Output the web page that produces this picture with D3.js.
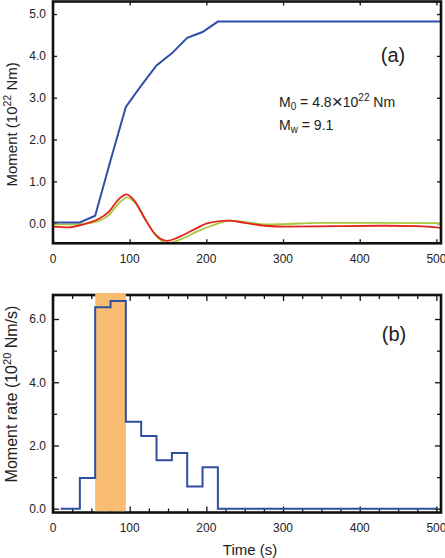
<!DOCTYPE html>
<html><head><meta charset="utf-8">
<script src="https://cdn.jsdelivr.net/npm/d3@7"></script>
<style>body{margin:0;background:#fff}svg{display:block}text{font-family:"Liberation Sans",Arial,sans-serif}</style>
</head><body>
<script>
// Panel (a): cumulative moment (10^22 Nm)
const timeA = [0, 35, 55, 75, 95, 115, 135, 155, 175, 195, 215, 506];
const momentA = [0.02, 0.02, 0.18, 1.5, 2.78, 3.29, 3.77, 4.06, 4.43, 4.57, 4.82, 4.82];
// Synthetic (red) and observed (green) waveforms
const redT = [0, 20, 37, 59, 72, 85, 96, 106, 120, 133, 149, 163, 185, 202, 228, 250, 276, 302, 367, 433, 476, 506];
const redV = [-0.08, -0.1, -0.04, 0.1, 0.26, 0.56, 0.69, 0.54, 0.1, -0.26, -0.42, -0.34, -0.14, 0, 0.06, 0.01, -0.06, -0.08, -0.07, -0.06, -0.07, -0.11];
const greenT = [0, 37, 59, 72, 85, 97, 109, 124, 137, 150, 165, 189, 207, 230, 254, 280, 302, 346, 411, 506];
const greenV = [-0.03, -0.02, 0.05, 0.18, 0.46, 0.62, 0.45, -0.02, -0.35, -0.48, -0.4, -0.19, -0.06, 0.06, 0.02, -0.03, -0.02, 0.01, 0.01, 0.0];
// Panel (b): moment rate (10^20 Nm/s), step function
const rateT = [10, 35, 55, 75, 95, 115, 135, 155, 175, 195, 215, 500];
const rateV = [0, 0.97, 6.37, 6.57, 2.75, 2.3, 1.53, 1.76, 0.7, 1.31, 0, 0];
const bandT = [55, 95];
const xTicks = [0, 100, 200, 300, 400, 500];
const yTicksA = [0, 1, 2, 3, 4, 5];
const yTicksB = [0, 2, 4, 6];

const W = 445, H = 558;
const svg = d3.select("body").append("svg").attr("width", W).attr("height", H);

const L = 53, R = 441;
const x = d3.scaleLinear().domain([0, 506]).range([L, R]);
const yA = d3.scaleLinear().domain([-0.48, 5.3]).range([243.3, 1.5]);
const yB = d3.scaleLinear().domain([-0.12, 6.76]).range([512.5, 295]);
const fmt = d3.format(".1f");

function ticks(g, axisFn, scale, vals, size) {
  g.call(axisFn(scale).tickValues(vals).tickSize(-size).tickFormat(""))
   .call(s => s.select(".domain").remove())
   .call(s => s.selectAll("line").attr("stroke", "#111").attr("stroke-width", 1.3));
}

function panel(y, top, bottom, yVals, yMinor, xMinor, majLen, minLen) {
  const g = svg.append("g");
  ticks(g.append("g").attr("transform", `translate(0,${bottom})`), d3.axisBottom, x, xTicks, majLen);
  ticks(g.append("g").attr("transform", `translate(0,${top})`), d3.axisTop, x, xTicks, majLen);
  ticks(g.append("g").attr("transform", `translate(${L},0)`), d3.axisLeft, y, yVals, majLen);
  ticks(g.append("g").attr("transform", `translate(${R},0)`), d3.axisRight, y, yVals, majLen);
  if (xMinor) {
    ticks(g.append("g").attr("transform", `translate(0,${bottom})`), d3.axisBottom, x, xMinor, minLen);
    ticks(g.append("g").attr("transform", `translate(0,${top})`), d3.axisTop, x, xMinor, minLen);
  }
  if (yMinor) {
    ticks(g.append("g").attr("transform", `translate(${L},0)`), d3.axisLeft, y, yMinor, minLen);
    ticks(g.append("g").attr("transform", `translate(${R},0)`), d3.axisRight, y, yMinor, minLen);
  }
  return g;
}

function frame(top, bottom) {
  svg.append("rect").attr("x", L).attr("y", top).attr("width", R - L).attr("height", bottom - top)
    .attr("fill", "none").attr("stroke", "#111").attr("stroke-width", 2.6);
}

function labels(y, bottom, yVals, labY) {
  svg.append("g").selectAll("text").data(xTicks).join("text")
    .attr("x", d => x(d)).attr("y", labY).attr("text-anchor", "middle")
    .attr("font-size", 12).attr("fill", "#222").text(d => d);
  svg.append("g").selectAll("text").data(yVals).join("text")
    .attr("x", 46).attr("y", d => y(d) + 4.3).attr("text-anchor", "end")
    .attr("font-size", 12).attr("fill", "#222").text(d => fmt(d));
}

// ---------- Panel (a) ----------
const topA = 1.5, botA = 243.3;
panel(yA, topA, botA, yTicksA, null, null, 4, 0);
svg.append("clipPath").attr("id", "ca").append("rect")
  .attr("x", L).attr("y", topA).attr("width", R - L).attr("height", botA - topA);
const gA = svg.append("g").attr("clip-path", "url(#ca)");
const lineSmooth = d3.line().curve(d3.curveMonotoneX);
gA.append("path").attr("d", lineSmooth(greenT.map((t, i) => [x(t), yA(greenV[i])])))
  .attr("fill", "none").attr("stroke", "#a6c93a").attr("stroke-width", 1.8);
gA.append("path").attr("d", lineSmooth(redT.map((t, i) => [x(t), yA(redV[i])])))
  .attr("fill", "none").attr("stroke", "#e3231c").attr("stroke-width", 1.8);
gA.append("path").attr("d", d3.line()(timeA.map((t, i) => [x(t), yA(momentA[i])])))
  .attr("fill", "none").attr("stroke", "#2d50a6").attr("stroke-width", 2);
frame(topA, botA);
labels(yA, botA, yTicksA, 263);

svg.append("text").attr("x", 393).attr("y", 62).attr("text-anchor", "middle")
  .attr("font-size", 20).attr("fill", "#222").text("(a)");
const t1 = svg.append("text").attr("x", 279).attr("y", 107).attr("font-size", 14).attr("fill", "#222");
t1.append("tspan").text("M");
t1.append("tspan").attr("font-size", 10).attr("dy", 3).text("0");
t1.append("tspan").attr("dy", -3).text(" = 4.8");
t1.append("tspan").attr("font-size", 19).attr("dy", 1).text("\u00D7");
t1.append("tspan").attr("dy", -1).text("10");
t1.append("tspan").attr("font-size", 10).attr("dy", -6).text("22");
t1.append("tspan").attr("dy", 6).text(" Nm");
const t2 = svg.append("text").attr("x", 279).attr("y", 130).attr("font-size", 14).attr("fill", "#222");
t2.append("tspan").text("M");
t2.append("tspan").attr("font-size", 10).attr("dy", 3).text("w");
t2.append("tspan").attr("dy", -3).text(" = 9.1");

const ylA = svg.append("text").attr("transform", `translate(17,${(topA + botA) / 2 + 2}) rotate(-90)`)
  .attr("text-anchor", "middle").attr("font-size", 15).attr("fill", "#222");
ylA.append("tspan").text("Moment (10");
ylA.append("tspan").attr("font-size", 10.5).attr("dy", -6).text("22");
ylA.append("tspan").attr("dy", 6).text(" Nm)");

// ---------- Panel (b) ----------
const topB = 295, botB = 512.5;
const xMinorB = d3.range(0, 501, 25).filter(v => v % 100 !== 0);
panel(yB, topB, botB, yTicksB, [1, 3, 5], xMinorB, 6, 4);
frame(topB, botB);
svg.append("rect").attr("x", x(bandT[0])).attr("y", topB - 2)
  .attr("width", x(bandT[1]) - x(bandT[0])).attr("height", botB - topB + 0.7)
  .attr("fill", "#f8bd72");
svg.append("path").attr("d", d3.line().curve(d3.curveStepAfter)(rateT.map((t, i) => [x(t), yB(rateV[i])])))
  .attr("fill", "none").attr("stroke", "#2f4f9f").attr("stroke-width", 2);
labels(yB, botB, yTicksB, 532);

svg.append("text").attr("x", 394).attr("y", 341).attr("text-anchor", "middle")
  .attr("font-size", 20).attr("fill", "#222").text("(b)");
const ylB = svg.append("text").attr("transform", `translate(17,394) rotate(-90)`)
  .attr("text-anchor", "middle").attr("font-size", 16).attr("fill", "#222");
ylB.append("tspan").text("Moment rate (10");
ylB.append("tspan").attr("font-size", 11).attr("dy", -6).text("20");
ylB.append("tspan").attr("dy", 6).text(" Nm/s)");

svg.append("text").attr("x", 250).attr("y", 555).attr("text-anchor", "middle")
  .attr("font-size", 15).attr("fill", "#222").text("Time (s)");
</script>
</body></html>
